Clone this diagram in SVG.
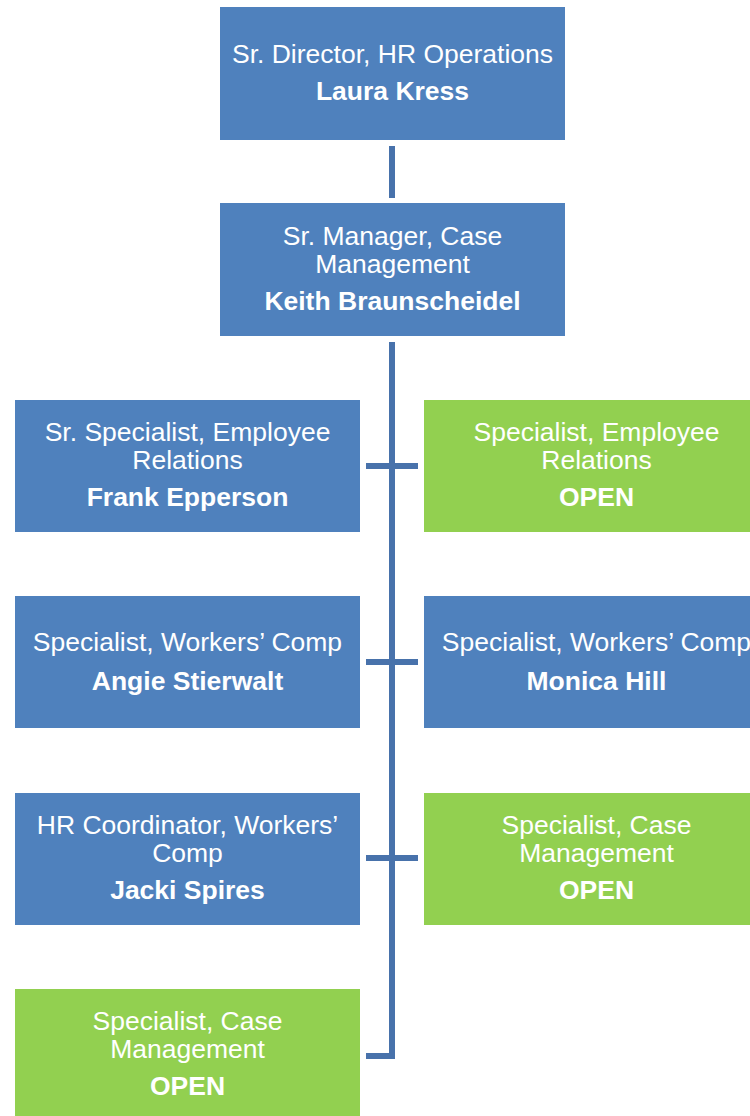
<svg xmlns="http://www.w3.org/2000/svg" width="750" height="1116" viewBox="0 0 750 1116">
<style>
.blue{fill:#4F81BD}
.green{fill:#92D050}
.t{font-family:"Liberation Sans",Arial,sans-serif;font-size:26.5px;fill:#FFFFFF;text-anchor:middle}
.b{font-weight:bold}
.c{stroke:#4872AB;stroke-width:6;fill:none}
</style>
<rect width="750" height="1116" fill="#FFFFFF"/>
<g id="connectors">
<line class="c" x1="392" y1="146" x2="392" y2="198"/>
<polyline class="c" points="392,342 392,1056 366,1056"/>
<line class="c" x1="366" y1="466" x2="418" y2="466"/>
<line class="c" x1="366" y1="662" x2="418" y2="662"/>
<line class="c" x1="366" y1="858" x2="418" y2="858"/>
</g>
<g id="director">
<rect class="blue" x="220" y="7" width="345" height="133"/>
<text class="t" x="392.5" y="63">Sr. Director, HR Operations</text>
<text class="t b" x="392.5" y="100">Laura Kress</text>
</g>
<g id="manager">
<rect class="blue" x="220" y="203" width="345" height="133"/>
<text class="t" x="392.5" y="245">Sr. Manager, Case</text>
<text class="t" x="392.5" y="273">Management</text>
<text class="t b" x="392.5" y="310">Keith Braunscheidel</text>
</g>
<g id="frank">
<rect class="blue" x="15" y="400" width="345" height="132"/>
<text class="t" x="187.5" y="441">Sr. Specialist, Employee</text>
<text class="t" x="187.5" y="469">Relations</text>
<text class="t b" x="187.5" y="506">Frank Epperson</text>
</g>
<g id="open-er">
<rect class="green" x="424" y="400" width="345" height="132"/>
<text class="t" x="596.5" y="441">Specialist, Employee</text>
<text class="t" x="596.5" y="469">Relations</text>
<text class="t b" x="596.5" y="506">OPEN</text>
</g>
<g id="angie">
<rect class="blue" x="15" y="596" width="345" height="132"/>
<text class="t" x="187.5" y="651">Specialist, Workers’ Comp</text>
<text class="t b" x="187.5" y="690">Angie Stierwalt</text>
</g>
<g id="monica">
<rect class="blue" x="424" y="596" width="345" height="132"/>
<text class="t" x="596.5" y="651">Specialist, Workers’ Comp</text>
<text class="t b" x="596.5" y="690">Monica Hill</text>
</g>
<g id="jacki">
<rect class="blue" x="15" y="793" width="345" height="132"/>
<text class="t" x="187.5" y="834">HR Coordinator, Workers’</text>
<text class="t" x="187.5" y="862">Comp</text>
<text class="t b" x="187.5" y="899">Jacki Spires</text>
</g>
<g id="open-cm1">
<rect class="green" x="424" y="793" width="345" height="132"/>
<text class="t" x="596.5" y="834">Specialist, Case</text>
<text class="t" x="596.5" y="862">Management</text>
<text class="t b" x="596.5" y="899">OPEN</text>
</g>
<g id="open-cm2">
<rect class="green" x="15" y="989" width="345" height="132"/>
<text class="t" x="187.5" y="1030">Specialist, Case</text>
<text class="t" x="187.5" y="1058">Management</text>
<text class="t b" x="187.5" y="1095">OPEN</text>
</g>
</svg>
